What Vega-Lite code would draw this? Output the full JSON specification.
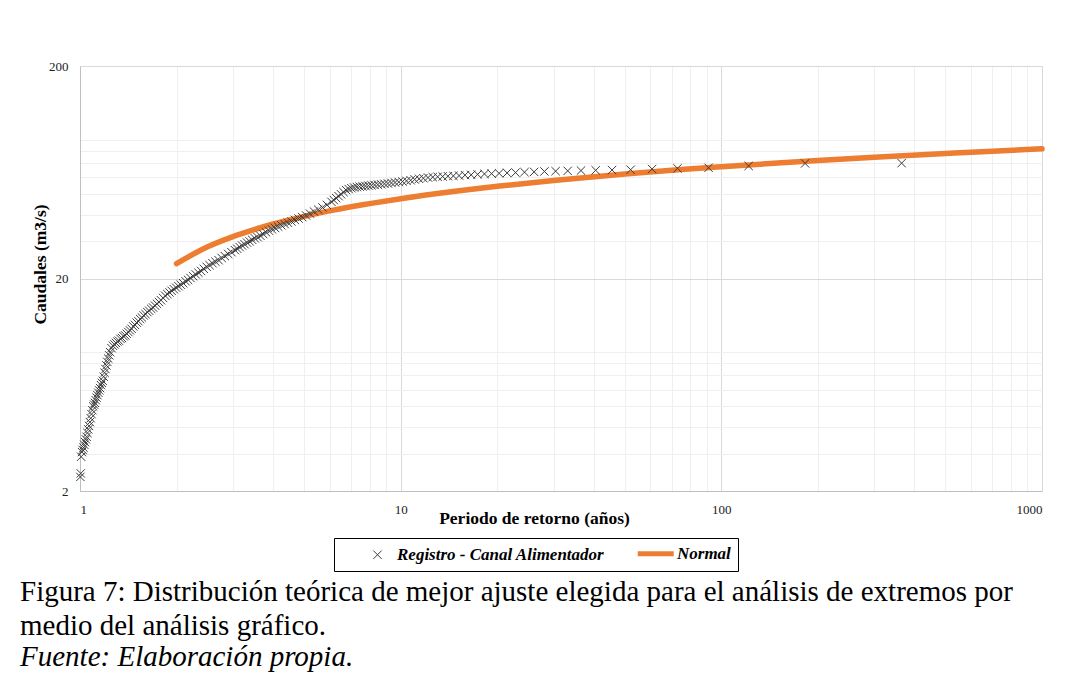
{
  "$schema": "https://vega.github.io/schema/vega-lite/v6.json",
  "width": 962,
  "height": 425,
  "autosize": "none",
  "padding": {"left": 80, "top": 66, "right": 25, "bottom": 203},
  "background": "white",
  "config": {"view": {"stroke": null}, "font": "Liberation Serif"},
  "title": {
    "text": ["Figura 7: Distribución teórica de mejor ajuste elegida para el análisis de extremos por", "medio del análisis gráfico."],
    "subtitle": "Fuente: Elaboración propia.",
    "orient": "bottom",
    "anchor": "start",
    "frame": "group",
    "offset": 6,
    "dx": -60,
    "font": "Liberation Serif",
    "fontSize": 29,
    "fontWeight": "normal",
    "color": "black",
    "lineHeight": 34,
    "subtitleFont": "Liberation Serif",
    "subtitleFontSize": 29,
    "subtitleFontStyle": "italic",
    "subtitleColor": "black",
    "subtitleLineHeight": 34,
    "subtitlePadding": 2
  },
  "datasets": {
    "normal": [
      {"T": 2, "Q": 23.5}, {"T": 2.5, "Q": 28.2}, {"T": 3, "Q": 31.5}, {"T": 3.5, "Q": 34.0},
      {"T": 4, "Q": 36.1}, {"T": 5, "Q": 39.2}, {"T": 6, "Q": 41.6}, {"T": 7, "Q": 43.5},
      {"T": 8, "Q": 45.0}, {"T": 10, "Q": 47.5}, {"T": 15, "Q": 51.6}, {"T": 20, "Q": 54.3},
      {"T": 30, "Q": 57.9}, {"T": 50, "Q": 62.0}, {"T": 75, "Q": 65.1}, {"T": 100, "Q": 67.1},
      {"T": 150, "Q": 69.9}, {"T": 200, "Q": 71.8}, {"T": 300, "Q": 74.4}, {"T": 500, "Q": 77.5},
      {"T": 700, "Q": 79.5}, {"T": 1000, "Q": 81.5}
    ],
    "registro": [
      {"T": 365, "Q": 69.8}, {"T": 182.5, "Q": 69.6}, {"T": 121.67, "Q": 67.7}, {"T": 91.25, "Q": 66.4},
      {"T": 73, "Q": 66.0}, {"T": 60.83, "Q": 65.5}, {"T": 52.14, "Q": 65.0}, {"T": 45.63, "Q": 64.8},
      {"T": 40.56, "Q": 64.6}, {"T": 36.5, "Q": 64.4}, {"T": 33.18, "Q": 64.2}, {"T": 30.42, "Q": 64.0},
      {"T": 28.08, "Q": 63.8}, {"T": 26.07, "Q": 63.5}, {"T": 24.33, "Q": 63.3}, {"T": 22.81, "Q": 63.0},
      {"T": 21.47, "Q": 62.8}, {"T": 20.28, "Q": 62.5}, {"T": 19.21, "Q": 62.3}, {"T": 18.25, "Q": 62.1},
      {"T": 17.38, "Q": 61.8}, {"T": 16.59, "Q": 61.5}, {"T": 15.87, "Q": 61.3}, {"T": 15.21, "Q": 61.0},
      {"T": 14.6, "Q": 60.8}, {"T": 14.04, "Q": 60.6}, {"T": 13.52, "Q": 60.4}, {"T": 13.04, "Q": 60.2},
      {"T": 12.59, "Q": 60.0}, {"T": 12.17, "Q": 59.7}, {"T": 11.77, "Q": 59.3}, {"T": 11.41, "Q": 58.9},
      {"T": 11.06, "Q": 58.5}, {"T": 10.74, "Q": 58.0}, {"T": 10.43, "Q": 57.6}, {"T": 10.14, "Q": 57.2},
      {"T": 9.865, "Q": 56.9}, {"T": 9.605, "Q": 56.6}, {"T": 9.359, "Q": 56.3}, {"T": 9.125, "Q": 56.0},
      {"T": 8.902, "Q": 55.8}, {"T": 8.69, "Q": 55.5}, {"T": 8.488, "Q": 55.3}, {"T": 8.295, "Q": 55.1},
      {"T": 8.111, "Q": 54.9}, {"T": 7.935, "Q": 54.7}, {"T": 7.766, "Q": 54.5}, {"T": 7.604, "Q": 54.3},
      {"T": 7.449, "Q": 54.1}, {"T": 7.3, "Q": 53.9}, {"T": 7.157, "Q": 53.6}, {"T": 7.019, "Q": 53.2},
      {"T": 6.887, "Q": 52.7}, {"T": 6.759, "Q": 52.1}, {"T": 6.636, "Q": 51.0}, {"T": 6.518, "Q": 49.8},
      {"T": 6.404, "Q": 48.8}, {"T": 6.293, "Q": 47.8}, {"T": 6.186, "Q": 46.8}, {"T": 6.083, "Q": 45.9},
      {"T": 5.887, "Q": 44.4}, {"T": 5.703, "Q": 43.2}, {"T": 5.53, "Q": 42.2}, {"T": 5.368, "Q": 41.3},
      {"T": 5.214, "Q": 40.4}, {"T": 5.069, "Q": 39.6}, {"T": 4.932, "Q": 38.9}, {"T": 4.803, "Q": 38.3},
      {"T": 4.679, "Q": 37.7}, {"T": 4.563, "Q": 37.1}, {"T": 4.451, "Q": 36.6}, {"T": 4.345, "Q": 36.1},
      {"T": 4.244, "Q": 35.6}, {"T": 4.148, "Q": 35.1}, {"T": 4.056, "Q": 34.6}, {"T": 3.967, "Q": 34.1},
      {"T": 3.883, "Q": 33.6}, {"T": 3.802, "Q": 33.0}, {"T": 3.724, "Q": 32.4}, {"T": 3.65, "Q": 31.8},
      {"T": 3.578, "Q": 31.3}, {"T": 3.51, "Q": 30.9}, {"T": 3.443, "Q": 30.4}, {"T": 3.38, "Q": 29.9},
      {"T": 3.318, "Q": 29.5}, {"T": 3.259, "Q": 29.0}, {"T": 3.202, "Q": 28.6}, {"T": 3.147, "Q": 28.1},
      {"T": 3.093, "Q": 27.6}, {"T": 3.042, "Q": 27.2},
      {"T": 2.967, "Q": 26.6}, {"T": 2.897, "Q": 26.1}, {"T": 2.829, "Q": 25.5}, {"T": 2.765, "Q": 25.0},
      {"T": 2.704, "Q": 24.4}, {"T": 2.645, "Q": 24.0}, {"T": 2.589, "Q": 23.6}, {"T": 2.535, "Q": 23.1},
      {"T": 2.483, "Q": 22.7}, {"T": 2.433, "Q": 22.2}, {"T": 2.386, "Q": 21.7}, {"T": 2.34, "Q": 21.3},
      {"T": 2.296, "Q": 20.9}, {"T": 2.253, "Q": 20.5}, {"T": 2.212, "Q": 20.1}, {"T": 2.173, "Q": 19.7},
      {"T": 2.135, "Q": 19.4}, {"T": 2.098, "Q": 19.0}, {"T": 2.062, "Q": 18.7}, {"T": 2.028, "Q": 18.4},
      {"T": 1.995, "Q": 18.1}, {"T": 1.962, "Q": 17.8}, {"T": 1.931, "Q": 17.5}, {"T": 1.901, "Q": 17.2},
      {"T": 1.872, "Q": 16.9}, {"T": 1.843, "Q": 16.6}, {"T": 1.816, "Q": 16.2}, {"T": 1.789, "Q": 15.8},
      {"T": 1.763, "Q": 15.5}, {"T": 1.738, "Q": 15.2}, {"T": 1.714, "Q": 14.9}, {"T": 1.69, "Q": 14.6},
      {"T": 1.667, "Q": 14.4}, {"T": 1.644, "Q": 14.1}, {"T": 1.622, "Q": 13.9}, {"T": 1.601, "Q": 13.6},
      {"T": 1.58, "Q": 13.4}, {"T": 1.56, "Q": 13.1}, {"T": 1.54, "Q": 12.9}, {"T": 1.521, "Q": 12.6},
      {"T": 1.502, "Q": 12.4}, {"T": 1.484, "Q": 12.1}, {"T": 1.466, "Q": 11.9}, {"T": 1.448, "Q": 11.6},
      {"T": 1.431, "Q": 11.4}, {"T": 1.415, "Q": 11.2}, {"T": 1.398, "Q": 11.0}, {"T": 1.383, "Q": 10.8},
      {"T": 1.367, "Q": 10.7}, {"T": 1.352, "Q": 10.5}, {"T": 1.337, "Q": 10.4}, {"T": 1.322, "Q": 10.2},
      {"T": 1.308, "Q": 10.1}, {"T": 1.294, "Q": 9.95}, {"T": 1.281, "Q": 9.8}, {"T": 1.267, "Q": 9.65},
      {"T": 1.254, "Q": 9.4},
      {"T": 1.2415, "Q": 9.0}, {"T": 1.2331, "Q": 8.7}, {"T": 1.2248, "Q": 8.4}, {"T": 1.2167, "Q": 8.1},
      {"T": 1.2086, "Q": 7.8}, {"T": 1.2007, "Q": 7.5}, {"T": 1.1928, "Q": 7.2}, {"T": 1.1851, "Q": 6.9},
      {"T": 1.1774, "Q": 6.6}, {"T": 1.1699, "Q": 6.45}, {"T": 1.1624, "Q": 6.3}, {"T": 1.1551, "Q": 6.1},
      {"T": 1.1478, "Q": 5.95}, {"T": 1.1406, "Q": 5.8}, {"T": 1.1335, "Q": 5.65}, {"T": 1.1265, "Q": 5.5},
      {"T": 1.1196, "Q": 5.35}, {"T": 1.1128, "Q": 5.2}, {"T": 1.1061, "Q": 5.1}, {"T": 1.0994, "Q": 5.0},
      {"T": 1.0928, "Q": 4.8}, {"T": 1.0863, "Q": 4.6}, {"T": 1.0799, "Q": 4.4}, {"T": 1.0735, "Q": 4.22},
      {"T": 1.0673, "Q": 4.05}, {"T": 1.061, "Q": 3.9}, {"T": 1.0549, "Q": 3.75}, {"T": 1.0489, "Q": 3.6},
      {"T": 1.0429, "Q": 3.5}, {"T": 1.0369, "Q": 3.4}, {"T": 1.0311, "Q": 3.3}, {"T": 1.0253, "Q": 3.2},
      {"T": 1.0196, "Q": 3.12}, {"T": 1.0139, "Q": 3.05}, {"T": 1.0083, "Q": 2.9}, {"T": 1.0055, "Q": 2.42},
      {"T": 1.0027, "Q": 2.33}
    ]
  },
  "layer": [
    {
      "data": {"name": "normal"},
      "mark": {"type": "line", "strokeWidth": 5.5, "strokeCap": "round", "interpolate": "monotone"},
      "encoding": {
        "x": {
          "field": "T", "type": "quantitative",
          "scale": {"type": "log", "domain": [1, 1000]},
          "axis": {"orient": "top", "values": [2,3,4,5,6,7,8,9,20,30,40,50,60,70,80,90,200,300,400,500,600,700,800,900],
                   "grid": true, "gridColor": "#efefef", "gridWidth": 1, "labels": false, "ticks": false, "domain": false, "title": null}
        },
        "y": {
          "field": "Q", "type": "quantitative",
          "scale": {"type": "log", "domain": [2, 200]},
          "axis": {"orient": "right", "values": [3,4,5,6,7,8,9,30,40,50,60,70,80,90],
                   "grid": true, "gridColor": "#efefef", "gridWidth": 1, "labels": false, "ticks": false, "domain": false, "title": null}
        },
        "color": {
          "datum": "Normal", "type": "nominal",
          "scale": {"domain": ["Registro - Canal Alimentador", "Normal"], "range": ["#3c3c3c", "#ED7D31"]},
          "legend": {
            "orient": "none", "legendX": 254, "legendY": 472, "direction": "horizontal",
            "title": ".", "titleOrient": "left", "titleFontSize": 8, "titleColor": "#ffffff", "titlePadding": 26,
            "strokeColor": "black", "fillColor": "white", "padding": 7,
            "labelFont": "Liberation Serif", "labelFontSize": 17, "labelFontWeight": "bold", "labelFontStyle": "italic",
            "labelColor": "black", "labelOffset": 11, "labelLimit": 400, "columnPadding": 22, "symbolSize": 70,
            "encode": {"symbols": {"update": {
              "fill": {"value": "transparent"},
              "stroke": {"signal": "datum.value === 'Normal' ? '#ED7D31' : '#808080'"},
              "strokeWidth": {"signal": "datum.value === 'Normal' ? 5 : 1"}
            }}}
          }
        }
      }
    },
    {
      "data": {"name": "registro"},
      "mark": {"type": "point", "filled": false, "strokeWidth": 1, "size": 70, "opacity": 1},
      "encoding": {
        "x": {
          "field": "T", "type": "quantitative",
          "scale": {"type": "log", "domain": [1, 1000]},
          "axis": {"orient": "bottom", "values": [1, 10, 100, 1000], "format": "d",
                   "grid": true, "gridColor": "#d9d9d9", "ticks": false, "domain": true, "domainColor": "#bfbfbf",
                   "labelFont": "Liberation Serif", "labelFontSize": 13, "labelColor": "#222222", "labelPadding": 12,
                   "title": "Periodo de retorno (años)", "titleFont": "Liberation Serif", "titleFontSize": 17.5,
                   "titleFontWeight": "bold", "titleColor": "black", "titleX": 454, "titleY": 27,
                   "titleAlign": "center", "titleBaseline": "middle"}
        },
        "y": {
          "field": "Q", "type": "quantitative",
          "scale": {"type": "log", "domain": [2, 200]},
          "axis": {"orient": "left", "values": [2, 20, 200], "format": "d",
                   "grid": true, "gridColor": "#d9d9d9", "ticks": false, "domain": true, "domainColor": "#bfbfbf",
                   "labelFont": "Liberation Serif", "labelFontSize": 13, "labelColor": "#222222", "labelPadding": 12,
                   "title": "Caudales (m3/s)", "titleFont": "Liberation Serif", "titleFontSize": 17.5,
                   "titleFontWeight": "bold", "titleColor": "black", "titleX": -40, "titleY": 198,
                   "titleAngle": 270, "titleAlign": "center", "titleBaseline": "middle"}
        },
        "color": {
          "datum": "Registro - Canal Alimentador", "type": "nominal",
          "scale": {"domain": ["Registro - Canal Alimentador", "Normal"], "range": ["#3c3c3c", "#ED7D31"]}
        },
        "shape": {
          "datum": "Registro - Canal Alimentador", "type": "nominal",
          "scale": {"domain": ["Registro - Canal Alimentador", "Normal"], "range": ["M-1,-1L1,1M1,-1L-1,1", "M-4.72,0L3.88,0"]},
          "legend": {
            "orient": "none", "legendX": 254, "legendY": 472, "direction": "horizontal",
            "title": ".", "titleOrient": "left", "titleFontSize": 8, "titleColor": "#ffffff", "titlePadding": 26,
            "strokeColor": "black", "fillColor": "white", "padding": 7,
            "labelFont": "Liberation Serif", "labelFontSize": 17, "labelFontWeight": "bold", "labelFontStyle": "italic",
            "labelColor": "black", "labelOffset": 11, "labelLimit": 400, "columnPadding": 22, "symbolSize": 70,
            "encode": {"symbols": {"update": {
              "fill": {"value": "transparent"},
              "stroke": {"signal": "datum.value === 'Normal' ? '#ED7D31' : '#808080'"},
              "strokeWidth": {"signal": "datum.value === 'Normal' ? 5 : 1"}
            }}}
          }
        }
      }
    }
  ],
  "resolve": {"axis": {"x": "independent", "y": "independent"}}
}
